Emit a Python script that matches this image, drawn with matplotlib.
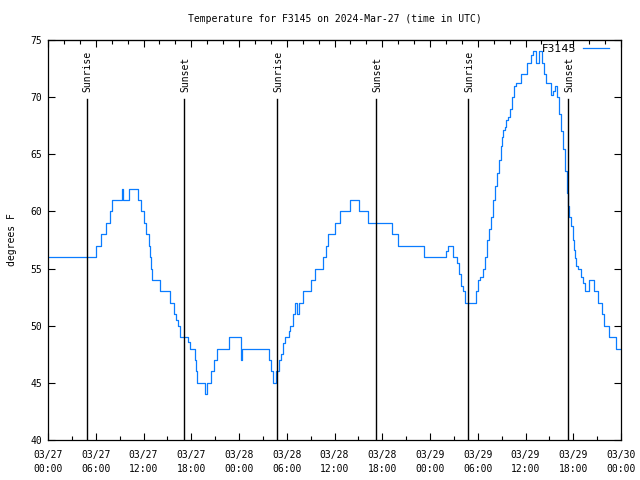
import numpy as np
import matplotlib.pyplot as plt
from matplotlib.ticker import MultipleLocator

# Hours since 2024-03-27 00:00 UTC and temperature (F)
hours = [0.0, 6.03, 6.66, 7.29, 7.79, 8.04, 9.24, 9.42, 10.18, 11.37,
         11.69, 12.06, 12.31, 12.69, 12.82, 12.94, 13.07, 14.07, 15.33, 15.83,
         16.08, 16.34, 16.59, 17.59, 17.84, 18.47, 18.60, 18.72, 19.73, 19.98,
         20.48, 20.86, 21.24, 22.74, 24.19, 24.38, 27.77, 28.02, 28.27, 28.71,
         28.97, 29.28, 29.53, 29.78, 30.28, 30.41, 30.79, 31.04, 31.29, 31.54,
         32.04, 33.05, 33.55, 34.56, 34.93, 35.18, 36.06, 36.69, 37.95, 39.08,
         40.21, 43.23, 43.98, 47.25, 50.01, 50.26, 50.89, 51.40, 51.65, 51.90,
         52.15, 52.40, 53.78, 54.03, 54.28, 54.66, 54.91, 55.16, 55.41, 55.66,
         55.92, 56.17, 56.42, 56.67, 56.92, 57.05, 57.17, 57.43, 57.55, 57.80,
         58.05, 58.31, 58.56, 58.81, 59.44, 60.19, 60.69, 60.95, 61.32, 61.70,
         62.08, 62.33, 62.58, 63.21, 63.46, 63.71, 63.96, 64.21, 64.46, 64.71,
         64.96, 65.22, 65.34, 65.47, 65.72, 65.97, 66.09, 66.22, 66.35, 66.60,
         66.98, 67.23, 67.48, 67.98, 68.61, 69.11, 69.61, 69.87, 70.49, 71.37,
         72.0]
temps = [56, 57, 58, 59, 60, 61, 62, 61, 62, 61,
         60, 59, 58, 57, 56, 55, 54, 53, 52, 51,
         50.5, 50, 49, 48.6, 48, 47, 46, 45, 44, 45,
         46, 47, 48, 49, 47, 48, 47, 46, 45, 46,
         47, 47.5, 48.5, 49, 49.5, 50, 51, 52, 51, 52,
         53, 54, 55, 56, 57, 58, 59, 60, 61, 60,
         59, 58, 57, 56, 56.5, 57, 56, 55.5, 54.5, 53.5,
         53, 52, 53, 54, 54.3, 55, 56, 57.5, 58.5, 59.5,
         61, 62.2, 63.4, 64.5, 65.7, 66.5, 67.1, 67.4, 68, 68.3,
         69, 70, 71, 71.2, 72, 73, 73.7, 74, 73, 74,
         73, 72, 71.2, 70.2, 70.5, 71, 70, 68.5, 67, 65.5,
         63.5, 61.6, 60.5, 59.5, 58.7, 57.5, 56.6, 55.9, 55.2, 55,
         54.3, 53.7, 53, 54, 53, 52, 51, 50, 49, 48,
         48]

sun_hours = [4.84, 17.09, 28.77, 41.22, 52.78, 65.34]
sun_labels = ['Sunrise', 'Sunset', 'Sunrise', 'Sunset', 'Sunrise', 'Sunset']

tick_hours = list(range(0, 73, 6))
tick_labels = ['03/27\n00:00', '03/27\n06:00', '03/27\n12:00', '03/27\n18:00',
               '03/28\n00:00', '03/28\n06:00', '03/28\n12:00', '03/28\n18:00',
               '03/29\n00:00', '03/29\n06:00', '03/29\n12:00', '03/29\n18:00',
               '03/30\n00:00']

mono = 'DejaVu Sans Mono'
fig = plt.figure(figsize=(6.4, 4.8), dpi=100)
ax = fig.add_axes([48/640, 1 - 440/480, (621 - 48)/640, 400/480])

ax.step(hours, temps, where='post', color='#0a7cff', lw=0.9, label='F3145')

for h, lab in zip(sun_hours, sun_labels):
    ax.plot([h, h], [40, 69.85], color='black', lw=1)
    ax.text(h + 0.15, 70.45, lab, rotation=90, ha='center', va='bottom',
            fontsize=7, family=mono)

ax.set_xlim(0, 72)
ax.set_ylim(40, 75)
ax.set_xticks(tick_hours)
ax.set_xticklabels(tick_labels, family=mono, fontsize=7, linespacing=1.55)
ax.xaxis.set_minor_locator(MultipleLocator(3))
ax.set_yticks(range(40, 76, 5))
ax.set_yticklabels([str(v) for v in range(40, 76, 5)], family=mono, fontsize=7)
ax.tick_params(axis='both', which='major', direction='in', length=5, width=0.8,
               right=True, pad=4)
ax.tick_params(axis='x', which='major', pad=7)
ax.tick_params(axis='x', which='minor', direction='in', length=3, width=0.8)

top = ax.secondary_xaxis('top')
top.set_xticks(tick_hours)
top.set_xticklabels([])
top.xaxis.set_minor_locator(MultipleLocator(2))
top.tick_params(which='major', direction='in', length=5, width=0.8)
top.tick_params(which='minor', direction='in', length=3, width=0.8)

for s in ax.spines.values():
    s.set_linewidth(0.9)

ax.set_ylabel('degrees F', family=mono, fontsize=7, labelpad=10)
fig.text(335/640, 1 - 19/480, 'Temperature for F3145 on 2024-Mar-27 (time in UTC)',
         ha='center', va='center', family=mono, fontsize=7)

ax.legend(loc='upper right', frameon=False, fontsize=8, handlelength=2.4,
          borderaxespad=0.4, handletextpad=0.6, markerfirst=False,
          bbox_to_anchor=(0.995, 1.012))

fig.savefig('out.png', dpi=100)
